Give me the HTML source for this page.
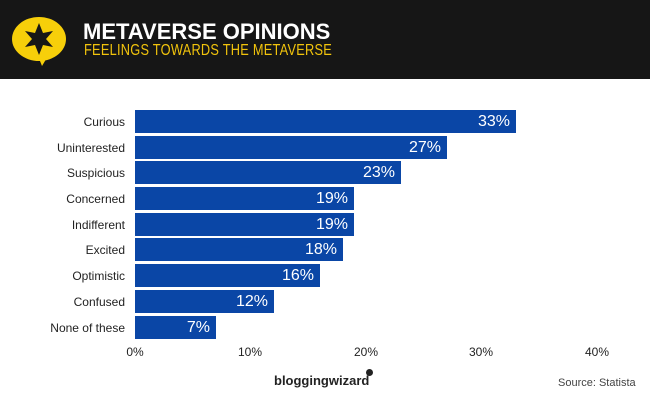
<!DOCTYPE html>
<html><head><style>
body{margin:0;width:650px;height:400px;background:#fff;font-family:"Liberation Sans",sans-serif;position:relative;overflow:hidden}
.hdr{position:absolute;left:0;top:0;width:650px;height:79px;background:#161616}
.t1{position:absolute;left:83px;top:19px;color:#fff;font-weight:bold;font-size:22px;letter-spacing:0px}
.t2{position:absolute;left:84px;top:42px;color:#f2c40c;font-size:16px;letter-spacing:0.3px;transform:scaleX(0.8);transform-origin:0 0;white-space:nowrap}
.lab{position:absolute;right:525px;font-size:12px;color:#222;text-align:right;white-space:nowrap}
.bar{position:absolute;left:135px;height:23px;background:#0a46a6;color:#fff;font-size:16px;text-align:right;box-sizing:border-box;padding-right:6px;line-height:23px}
.tk{position:absolute;top:345px;font-size:12px;color:#222;transform:translateX(-50%)}
</style></head><body>
<div class="hdr">
<svg style="position:absolute;left:8px;top:14px" width="66" height="56" viewBox="0 0 66 56">
<ellipse cx="31" cy="25" rx="27" ry="22" fill="#f7cf0a"/>
<path d="M30 42 L34 52 L40 42Z" fill="#f7cf0a"/>
<path d="M31 9 L35 19 L45 17 L38 25 L45 33 L35 31 L31 41 L27 31 L17 33 L24 25 L17 17 L27 19Z" fill="#161616"/>
</svg>
<div class="t1">METAVERSE OPINIONS</div>
<div class="t2">FEELINGS TOWARDS THE METAVERSE</div>
</div>
<div class="lab" style="top:115px">Curious</div><div class="bar" style="top:110px;width:381px">33%</div>
<div class="lab" style="top:141px">Uninterested</div><div class="bar" style="top:136px;width:312px">27%</div>
<div class="lab" style="top:166px">Suspicious</div><div class="bar" style="top:161px;width:266px">23%</div>
<div class="lab" style="top:192px">Concerned</div><div class="bar" style="top:187px;width:219px">19%</div>
<div class="lab" style="top:218px">Indifferent</div><div class="bar" style="top:213px;width:219px">19%</div>
<div class="lab" style="top:243px">Excited</div><div class="bar" style="top:238px;width:208px">18%</div>
<div class="lab" style="top:269px">Optimistic</div><div class="bar" style="top:264px;width:185px">16%</div>
<div class="lab" style="top:295px">Confused</div><div class="bar" style="top:290px;width:139px">12%</div>
<div class="lab" style="top:321px">None of these</div><div class="bar" style="top:316px;width:81px">7%</div>
<div class="tk" style="left:135px">0%</div>
<div class="tk" style="left:250px">10%</div>
<div class="tk" style="left:366px">20%</div>
<div class="tk" style="left:481px">30%</div>
<div class="tk" style="left:597px">40%</div>
<div style="position:absolute;left:274px;top:373px;font-size:13px;font-weight:bold;color:#222">bloggingwizard</div>
<div style="position:absolute;left:366px;top:369px;width:7px;height:7px;border-radius:50%;background:#222"></div>
<div style="position:absolute;left:558px;top:377px;font-size:11px;color:#444">Source: Statista</div>
</body></html>
